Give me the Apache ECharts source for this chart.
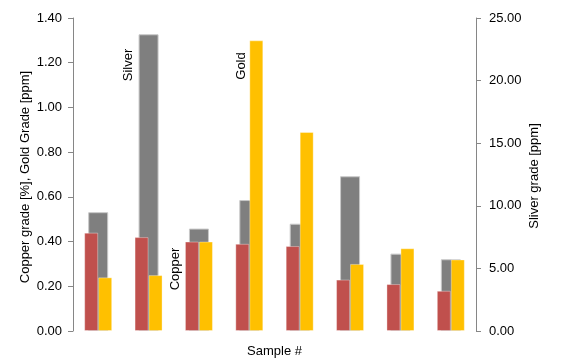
<!DOCTYPE html>
<html>
<head>
<meta charset="utf-8">
<script src="https://cdn.jsdelivr.net/npm/echarts@6/dist/echarts.min.js"></script>
<style>
html,body{margin:0;padding:0;background:#fff;}
#chart{width:563px;height:363px;}
</style>
</head>
<body>
<div id="chart"></div>
<script>
const samples = ['1','2','3','4','5','6','7','8'];
const copper = [0.44, 0.42, 0.40, 0.39, 0.38, 0.23, 0.21, 0.18];
const gold = [0.24, 0.25, 0.40, 1.30, 0.89, 0.30, 0.37, 0.32];
const silver = [9.49, 23.7, 8.18, 10.46, 8.57, 12.36, 6.18, 5.73];
const leftTicks = {min: 0, max: 1.4, interval: 0.2};
const rightTicks = {min: 0, max: 25, interval: 5};
const leftTitle = 'Copper grade [%], Gold Grade [ppm]';
const rightTitle = 'Sliver grade [ppm]';

const FONT = 'Liberation Sans';
const chart = echarts.init(document.getElementById('chart'));
const txt = (text, x, y) => ({type: 'text', x: x, y: y, rotation: Math.PI / 2,
  style: {text: text, fontSize: 13, fontFamily: FONT, fill: '#000', textAlign: 'center', textVerticalAlign: 'middle'}});
chart.setOption({
  animation: false,
  backgroundColor: '#fff',
  textStyle: {fontFamily: FONT},
  grid: {left: 73, right: 87, top: 18, bottom: 28},
  xAxis: [
    {type: 'category', data: samples, axisLine: {show: false}, axisTick: {show: false},
     axisLabel: {show: false}, name: 'Sample #', nameLocation: 'middle', nameGap: 14,
     nameTextStyle: {fontSize: 13, color: '#000', fontFamily: FONT}},
    {type: 'category', data: samples, show: false, position: 'bottom'}
  ],
  yAxis: [
    {type: 'value', min: leftTicks.min, max: leftTicks.max, interval: leftTicks.interval,
     position: 'left',
     axisLine: {show: true, lineStyle: {color: '#868686'}},
     axisTick: {show: true, length: 5, lineStyle: {color: '#868686'}},
     splitLine: {show: false},
     axisLabel: {formatter: v => v.toFixed(2), fontSize: 13, color: '#000', margin: 11, fontFamily: FONT}},
    {type: 'value', min: rightTicks.min, max: rightTicks.max, interval: rightTicks.interval,
     position: 'right',
     axisLine: {show: true, lineStyle: {color: '#868686'}},
     axisTick: {show: true, length: 5, lineStyle: {color: '#868686'}},
     splitLine: {show: false},
     axisLabel: {formatter: v => v.toFixed(2), fontSize: 13, color: '#000', margin: 13, fontFamily: FONT}}
  ],
  series: [
    {name: 'Silver', type: 'bar', xAxisIndex: 1, yAxisIndex: 1, data: silver, barWidth: 20, z: 1,
     itemStyle: {color: '#7F7F7F', borderColor: '#c8c8c8', borderWidth: 1}},
    {name: 'Copper', type: 'bar', xAxisIndex: 0, yAxisIndex: 0, data: copper, barWidth: 14, barGap: '0%', z: 3,
     itemStyle: {color: '#C0504D', borderColor: 'rgba(255,255,255,0.35)', borderWidth: 1}},
    {name: 'Gold', type: 'bar', xAxisIndex: 0, yAxisIndex: 0, data: gold, barWidth: 14, barGap: '0%', z: 3,
     itemStyle: {color: '#FFC000', borderColor: 'rgba(255,255,255,0.35)', borderWidth: 1}}
  ],
  graphic: [
    txt(leftTitle, 25, 177),
    txt(rightTitle, 534, 176),
    txt('Silver', 128, 65),
    txt('Gold', 241, 66),
    txt('Copper', 175, 269)
  ]
});
</script>
</body>
</html>
